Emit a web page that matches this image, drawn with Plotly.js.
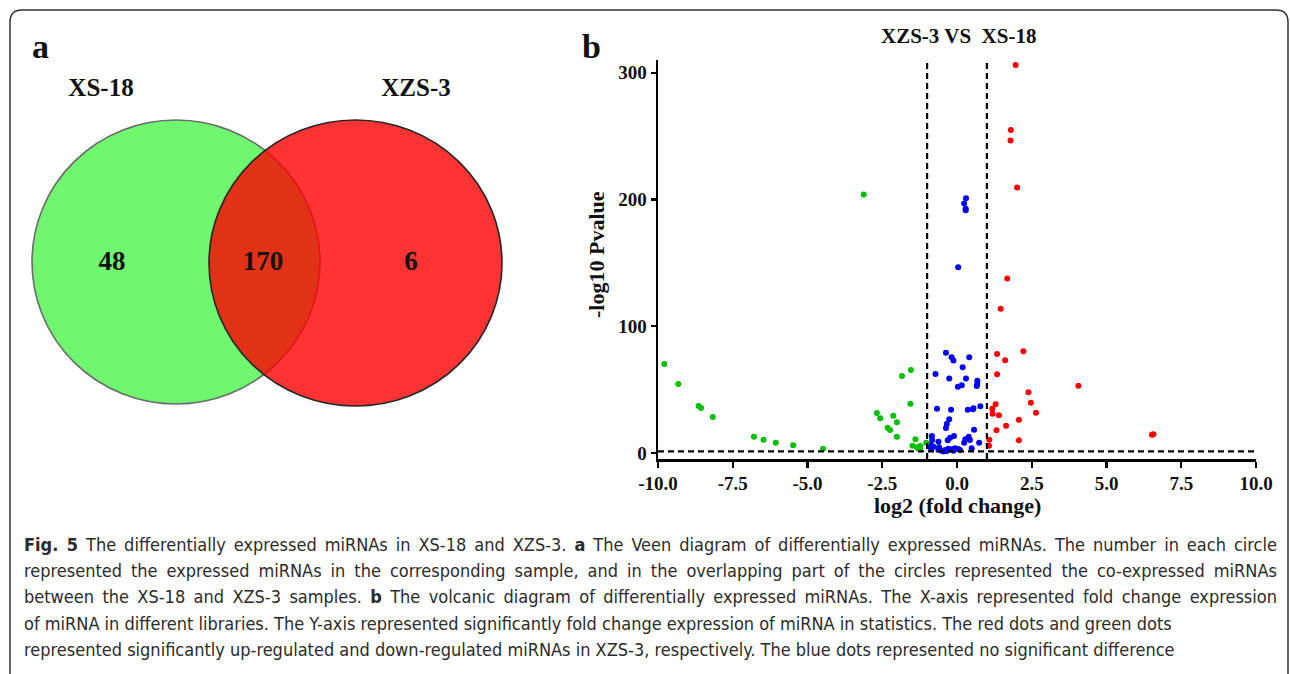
<!DOCTYPE html>
<html>
<head>
<meta charset="utf-8">
<script src="https://cdn.plot.ly/plotly-3.0.1.min.js"></script>
<style>html,body{margin:0;padding:0;background:#fff;}#chart{width:1290px;height:674px;}</style>
</head>
<body>
<div id="chart"></div>
<script>
// ---------- DATA ----------
// Venn diagram (panel a)
const vennSets = ['XS-18', 'XZS-3'];
const vennCounts = [48, 170, 6]; // only XS-18, shared, only XZS-3

// Volcano plot (panel b): log2 fold change / -log10 P value
const upX = [1.96, 1.80, 1.79, 2.01, 1.68, 1.46, 2.22, 1.34, 1.61, 1.34, 4.06, 2.39, 2.47, 2.64, 1.29, 1.18, 1.19, 1.40, 2.07, 1.64, 1.32, 2.07, 1.08, 1.07, 6.52, 6.57];
const upY = [306, 254.7, 246.5, 209.4, 137.6, 113.9, 80.3, 78.1, 73.2, 62.1, 53.1, 47.9, 39.7, 31.8, 38.4, 35.0, 31.0, 29.8, 26.3, 21.5, 17.9, 10.0, 10.5, 5.8, 14.4, 14.9];

const downX = [-9.79, -9.32, -8.64, -8.56, -8.17, -6.79, -6.47, -6.06, -5.48, -4.48, -3.12, -2.68, -2.57, -2.13, -2.01, -2.32, -2.24, -2.01, -1.84, -1.54, -1.56, -1.39, -1.49, -1.34, -1.23, -1.23, -1.03, -1.30];
const downY = [70.3, 54.5, 37.1, 35.5, 28.4, 12.9, 10.5, 8.1, 6.1, 3.4, 203.9, 31.6, 27.4, 29.5, 24.2, 20.0, 18.2, 12.9, 60.8, 65.5, 38.9, 10.8, 5.8, 4.5, 5.5, 3.7, 8.1, 3.5];

const nsX = [0.30, 0.24, 0.29, 0.29, 0.04, -0.37, -0.18, -0.12, 0.41, 0.19, -0.72, -0.26, 0.30, 0.68, 0.68, 0.66, 0.16, 0.03, -0.67, -0.20, 0.36, 0.53, 0.55, 0.78, -0.26, -0.34, -0.37, 0.57, -0.10, -0.23, -0.31, 0.39, 0.28, 0.43, 0.24, 0.74, -0.84, -0.83, -0.88, -0.79, -0.62, -0.60, -0.87, 0.49, -0.62, -0.51, -0.40, -0.29, -0.18, -0.07, 0.04, 0.10, -0.12, -0.34, -0.46];
const nsY = [201, 196.8, 192.6, 191.4, 146.6, 79.2, 75.5, 72.9, 75.5, 67.6, 62.4, 58.7, 58.7, 57.1, 54.5, 52.9, 53.4, 52.3, 35.0, 34.2, 34.2, 34.5, 35.3, 36.9, 26.6, 22.9, 19.7, 18.4, 13.4, 12.1, 10.0, 12.9, 10.8, 10.3, 8.1, 8.1, 13.4, 10.3, 6.6, 5.0, 8.9, 4.5, 3.7, 3.7, 2.4, 1.8, 2.4, 3.4, 2.9, 3.7, 3.2, 2.4, 1.8, 1.6, 1.3];

const xTickVals = [-10, -7.5, -5, -2.5, 0, 2.5, 5, 7.5, 10];
const xTickText = ['-10.0', '-7.5', '-5.0', '-2.5', '0.0', '2.5', '5.0', '7.5', '10.0'];
const yTickVals = [0, 100, 200, 300];

const fcThreshold = 1;       // |log2 FC| cut-off
const pThreshold = 1.3;      // -log10(0.05)

const captionLines = [
  '<b>Fig. 5</b> The differentially expressed miRNAs in XS-18 and XZS-3. <b>a</b> The Veen diagram of differentially expressed miRNAs. The number in each circle',
  'represented the expressed miRNAs in the corresponding sample, and in the overlapping part of the circles represented the co-expressed miRNAs',
  'between the XS-18 and XZS-3 samples. <b>b</b> The volcanic diagram of differentially expressed miRNAs. The X-axis represented fold change expression',
  'of miRNA in different libraries. The Y-axis represented significantly fold change expression of miRNA in statistics. The red dots and green dots',
  'represented significantly up-regulated and down-regulated miRNAs in XZS-3, respectively. The blue dots represented no significant difference'
];
const captionJustified = [true, true, true, false, false];

// ---------- STYLE / LAYOUT ----------
const W = 1290, H = 674;
const serif = 'Liberation Serif, Times New Roman, serif';
const capFont = 'DejaVu Sans Condensed, Liberation Sans Narrow, Roboto, sans-serif';
const captionLeft = 22, captionRight = 1275;

const mk = (x, y, color) => ({
  type: 'scatter', mode: 'markers', x: x, y: y, xaxis: 'x', yaxis: 'y',
  marker: {color: color, size: 6, line: {width: 0}}, hoverinfo: 'x+y', showlegend: false
});

// Venn geometry in page pixels (helper axis x2/y2)
const vennGeo = [
  {x0: 32, x1: 320, y0: 120, y1: 404, fill: '#6ff76f', line: '#6a6a6a'},
  {x0: 209, x1: 502, y0: 120, y1: 406, fill: 'rgba(255,0,0,0.8)', line: '#262626'}
];
const countPos = [[112, 263], [263, 263], [411, 263]];
const setLabelPos = [[101, 90], [416, 90]];

const traces = [
  mk(nsX, nsY, '#0000ff'),
  mk(downX, downY, '#00c000'),
  mk(upX, upY, '#ff0000'),
  {
    type: 'scatter', mode: 'text', xaxis: 'x2', yaxis: 'y2',
    x: countPos.map(p => p[0]), y: countPos.map(p => p[1]),
    text: vennCounts.map(String),
    textfont: {family: serif, size: 27, color: '#111', weight: 'bold'},
    hoverinfo: 'skip', showlegend: false
  },
  {
    type: 'scatter', mode: 'text', xaxis: 'x2', yaxis: 'y2',
    x: setLabelPos.map(p => p[0]), y: setLabelPos.map(p => p[1]),
    text: vennSets,
    textfont: {family: serif, size: 25, color: '#111', weight: 'bold'},
    hoverinfo: 'skip', showlegend: false
  }
];

const shapes = [];
// outer frame
shapes.push({type: 'path', xref: 'x2', yref: 'y2', layer: 'below',
  path: 'M 10,700 L 10,22 Q 10,10 22,10 L 1276,10 Q 1288,10 1288,22 L 1288,700',
  line: {color: '#333', width: 1.5}});
vennGeo.forEach(g => shapes.push({type: 'circle', xref: 'x2', yref: 'y2', layer: 'below',
  x0: g.x0, x1: g.x1, y0: g.y0, y1: g.y1, fillcolor: g.fill, line: {color: g.line, width: 1.6}}));
// threshold lines (volcano)
const dash = {color: '#000', width: 2.2, dash: '6px,4px'};
shapes.push({type: 'line', xref: 'x', yref: 'y', x0: -fcThreshold, x1: -fcThreshold, y0: -4.7, y1: 310, line: dash});
shapes.push({type: 'line', xref: 'x', yref: 'y', x0: fcThreshold, x1: fcThreshold, y0: -4.7, y1: 310, line: dash});
shapes.push({type: 'line', xref: 'x', yref: 'y', x0: -10, x1: 10, y0: pThreshold, y1: pThreshold, line: dash});

const annotations = [];
const pxAnn = (x, y, text, size, extra) => Object.assign({
  xref: 'x2', yref: 'y2', x: x, y: y, text: text, showarrow: false,
  font: {family: serif, size: size, color: '#111', weight: 'bold'}
}, extra || {});
annotations.push(pxAnn(40, 46, 'a', 34));
annotations.push(pxAnn(591, 46, 'b', 34));
annotations.push(pxAnn(958, 36, 'XZS-3 VS  XS-18', 21));
annotations.push(pxAnn(957, 505, 'log2 (fold change)', 22));
annotations.push(pxAnn(596, 255, '-log10 Pvalue', 22, {textangle: -90}));
const captionStart = annotations.length;
captionLines.forEach((t, i) => annotations.push({
  xref: 'x2', yref: 'y2', x: captionLeft, y: 544 + i * 26.4, xanchor: 'left', yanchor: 'middle', align: 'left',
  text: t, showarrow: false, font: {family: capFont, size: 18, color: '#2b2b2b'}
}));

const layout = {
  width: W, height: H, margin: {l: 0, r: 0, t: 0, b: 0},
  paper_bgcolor: '#fff', plot_bgcolor: 'rgba(0,0,0,0)', showlegend: false,
  xaxis: {
    domain: [658 / W, 1256 / W], range: [-10, 10], anchor: 'y',
    tickvals: xTickVals, ticktext: xTickText, ticks: 'outside', ticklen: 6, tickwidth: 2.2, tickcolor: '#000',
    showline: true, linecolor: '#000', linewidth: 2.5, showgrid: false, zeroline: false,
    tickfont: {family: serif, size: 19, color: '#111', weight: 'bold'}
  },
  yaxis: {
    domain: [1 - 459 / H, 1 - 60 / H], range: [-4.7, 310], anchor: 'x',
    tickvals: yTickVals, ticks: 'outside', ticklen: 5, tickwidth: 2.2, tickcolor: '#000',
    showline: true, linecolor: '#000', linewidth: 2.5, showgrid: false, zeroline: false,
    tickfont: {family: serif, size: 19, color: '#111', weight: 'bold'}
  },
  xaxis2: {domain: [0, 1], range: [0, W], anchor: 'y2', visible: false, fixedrange: true},
  yaxis2: {domain: [0, 1], range: [H, 0], anchor: 'x2', visible: false, fixedrange: true},
  shapes: shapes,
  annotations: annotations
};

Plotly.newPlot('chart', traces, layout, {displayModeBar: false, staticPlot: true}).then(gd => {
  // justify the first caption lines to the full text width, like the printed figure
  const texts = gd.querySelectorAll('.annotation-text');
  captionLines.forEach((line, i) => {
    if (!captionJustified[i]) return;
    const el = texts[captionStart + i];
    if (!el) return;
    const spaces = (el.textContent.match(/ /g) || []).length;
    const bb = el.getBBox();
    const extra = (captionRight - captionLeft - bb.width) / Math.max(spaces, 1);
    if (extra > 0) el.style.wordSpacing = extra.toFixed(2) + 'px';
  });
});
</script>
</body>
</html>
